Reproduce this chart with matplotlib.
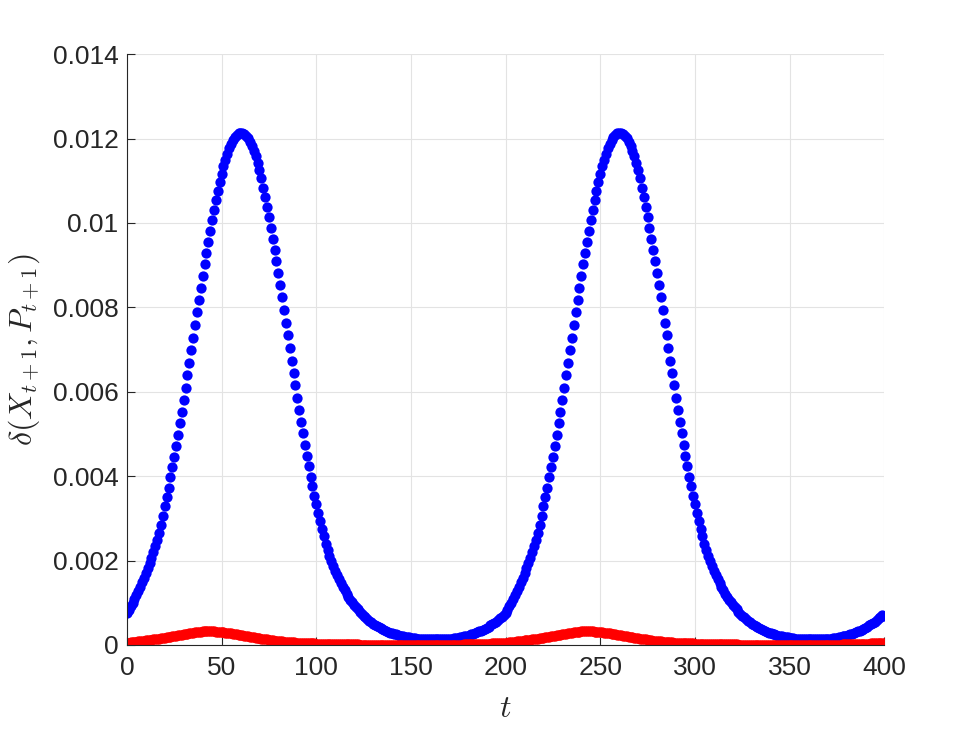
import matplotlib
matplotlib.use('Agg')
import matplotlib.pyplot as plt

# t = 0..400, one dot per step
t = list(range(401))

# values, in units of 1e-4, for one period (t = 0..199);
# the second period looks identical in the picture
blue_cycle = [
    7.5, 8.3, 9.1, 10.0, 10.9, 11.8, 12.8, 13.8, 14.8, 15.9,
    17.0, 18.2, 19.4, 20.7, 22.0, 23.4, 24.9, 26.6, 28.5, 30.6,
    32.8, 35.0, 37.3, 39.7, 42.1, 44.6, 47.2, 49.8, 52.5, 55.3,
    58.1, 61.0, 63.9, 66.8, 69.8, 72.8, 75.8, 78.8, 81.7, 84.6,
    87.4, 90.2, 92.9, 95.6, 98.2, 100.7, 103.1, 105.4, 107.6, 109.7,
    111.6, 113.4, 115.0, 116.4, 117.7, 118.8, 119.7, 120.4, 120.9, 121.2,
    121.3, 121.3, 121.1, 120.7, 120.1, 119.3, 118.3, 117.1, 115.8, 114.3,
    112.6, 110.6, 108.4, 106.1, 103.7, 101.3, 98.8, 96.2, 93.6, 90.9,
    88.1, 85.3, 82.4, 79.4, 76.4, 73.4, 70.4, 67.4, 64.5, 61.5,
    58.6, 55.7, 52.9, 50.1, 47.4, 44.8, 42.3, 39.9, 37.6, 35.4,
    33.3, 31.3, 29.4, 27.5, 25.7, 24.0, 22.5, 21.1, 19.8, 18.6,
    17.5, 16.5, 15.5, 14.6, 13.7, 12.9, 12.1, 11.4, 10.7, 10.1,
    9.5, 8.9, 8.4, 7.9, 7.4, 6.9, 6.5, 6.1, 5.7, 5.4,
    5.0, 4.7, 4.4, 4.2, 3.9, 3.7, 3.5, 3.3, 3.1, 2.9,
    2.8, 2.6, 2.5, 2.4, 2.2, 2.1, 2.0, 1.9, 1.9, 1.8,
    1.7, 1.6, 1.6, 1.5, 1.5, 1.4, 1.4, 1.4, 1.3, 1.3,
    1.3, 1.3, 1.3, 1.3, 1.3, 1.3, 1.3, 1.3, 1.4, 1.4,
    1.4, 1.5, 1.5, 1.6, 1.6, 1.7, 1.8, 1.9, 2.0, 2.1,
    2.2, 2.3, 2.5, 2.6, 2.8, 3.0, 3.2, 3.4, 3.6, 3.8,
    4.1, 4.3, 4.6, 4.9, 5.2, 5.5, 5.9, 6.3, 6.6, 7.0,
]
red_cycle = [
    0.50, 0.55, 0.60, 0.65, 0.70, 0.75, 0.81, 0.87, 0.93, 0.99,
    1.05, 1.11, 1.17, 1.23, 1.30, 1.37, 1.44, 1.51, 1.58, 1.65,
    1.73, 1.80, 1.88, 1.96, 2.04, 2.12, 2.20, 2.28, 2.36, 2.44,
    2.52, 2.60, 2.68, 2.76, 2.84, 2.92, 2.99, 3.06, 3.12, 3.17,
    3.21, 3.24, 3.25, 3.25, 3.24, 3.22, 3.19, 3.16, 3.12, 3.08,
    3.03, 2.98, 2.92, 2.86, 2.80, 2.73, 2.66, 2.59, 2.52, 2.45,
    2.38, 2.30, 2.22, 2.14, 2.06, 1.98, 1.90, 1.82, 1.74, 1.66,
    1.58, 1.50, 1.42, 1.35, 1.28, 1.21, 1.14, 1.08, 1.02, 0.96,
    0.91, 0.86, 0.81, 0.77, 0.73, 0.69, 0.65, 0.62, 0.59, 0.56,
    0.53, 0.50, 0.47, 0.45, 0.43, 0.41, 0.39, 0.37, 0.35, 0.33,
    0.31, 0.30, 0.28, 0.27, 0.25, 0.24, 0.23, 0.22, 0.21, 0.20,
    0.19, 0.18, 0.17, 0.16, 0.15, 0.14, 0.14, 0.13, 0.12, 0.12,
    0.11, 0.10, 0.10, 0.09, 0.09, 0.08, 0.08, 0.08, 0.07, 0.07,
    0.07, 0.06, 0.06, 0.06, 0.06, 0.05, 0.05, 0.05, 0.05, 0.05,
    0.05, 0.04, 0.04, 0.04, 0.04, 0.04, 0.04, 0.04, 0.04, 0.04,
    0.04, 0.04, 0.04, 0.04, 0.04, 0.04, 0.04, 0.04, 0.04, 0.04,
    0.04, 0.04, 0.04, 0.04, 0.04, 0.04, 0.05, 0.05, 0.05, 0.06,
    0.06, 0.06, 0.07, 0.07, 0.07, 0.08, 0.08, 0.09, 0.10, 0.11,
    0.12, 0.13, 0.14, 0.16, 0.17, 0.19, 0.20, 0.22, 0.24, 0.26,
    0.28, 0.30, 0.32, 0.34, 0.36, 0.38, 0.40, 0.43, 0.45, 0.48,
]
blue_end = 6.9
red_end = 0.45

blue = [v * 1e-4 for v in blue_cycle + blue_cycle + [blue_end]]
red = [v * 1e-4 for v in red_cycle + red_cycle + [red_end]]

xticks = [0, 50, 100, 150, 200, 250, 300, 350, 400]
yticks = [0, 0.002, 0.004, 0.006, 0.008, 0.01, 0.012, 0.014]
ytick_labels = ['0', '0.002', '0.004', '0.006', '0.008', '0.01', '0.012', '0.014']

plt.rcParams['font.family'] = ['Liberation Sans', 'DejaVu Sans']
plt.rcParams['mathtext.fontset'] = 'cm'

axis_col = '#262626'
fig = plt.figure(figsize=(9.76, 7.32), dpi=100)
ax = fig.add_axes([0.130, 0.119, 0.776, 0.807])

ax.plot(t, blue, 'o', color=(0, 0, 1), ms=7.4, mew=0)
ax.plot(t, red, 'o', color=(1, 0, 0), ms=7.4, mew=0)

ax.set_xlim(0, 400)
ax.set_ylim(0, 0.014)
ax.set_xticks(xticks)
ax.set_yticks(yticks)
ax.set_yticklabels(ytick_labels)
ax.tick_params(direction='in', length=5.5, width=0.8, labelsize=19,
               colors=axis_col)
ax.tick_params(axis='x', pad=8)
ax.tick_params(axis='y', pad=6)
ax.grid(True, color='#e3e3e3', linewidth=0.8)
ax.set_axisbelow(True)

ax.spines['top'].set_visible(False)
ax.spines['right'].set_visible(False)
ax.spines['left'].set_color(axis_col)
ax.spines['bottom'].set_color(axis_col)
ax.spines['left'].set_linewidth(0.8)
ax.spines['bottom'].set_linewidth(0.8)

ax.set_xlabel(r'$t$', fontsize=23, color=axis_col, labelpad=10)
ax.set_ylabel(r'$\delta(X_{t+1},P_{t+1})$', fontsize=23, color=axis_col, labelpad=8)

fig.savefig('out.png', dpi=100)
